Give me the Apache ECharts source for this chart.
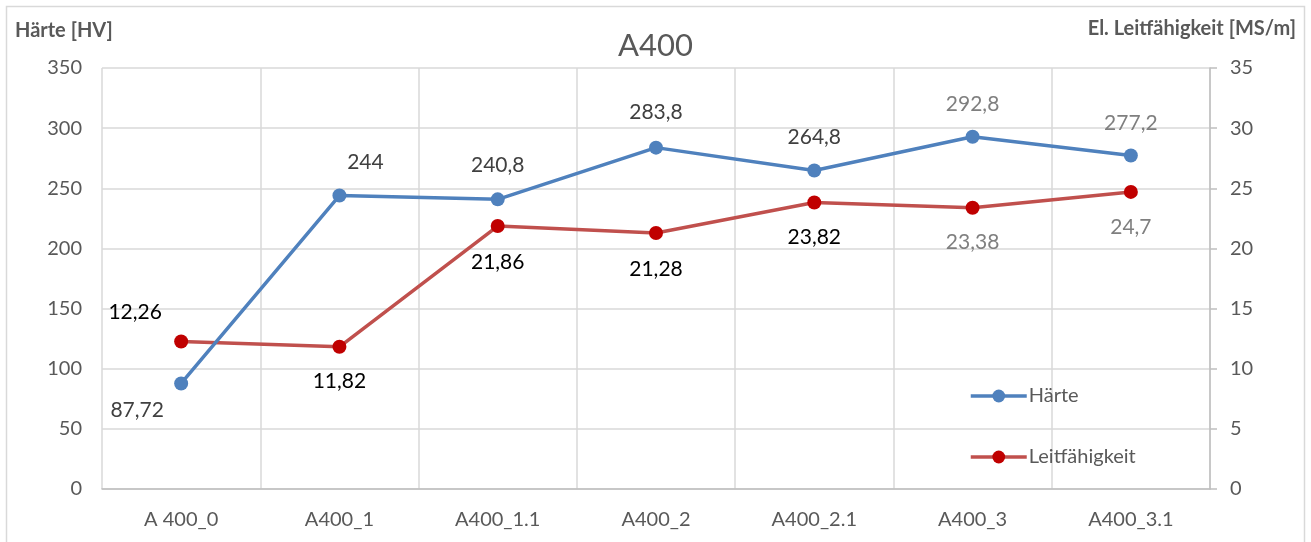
<!DOCTYPE html>
<html>
<head>
<meta charset="utf-8">
<script src="https://cdn.jsdelivr.net/npm/echarts@6/dist/echarts.min.js"></script>
<style>
  html, body { margin: 0; padding: 0; background: #fff; }
  #chart { width: 1311px; height: 542px; }
</style>
</head>
<body>
<div id="chart"></div>
<script>
// Probe categories
const categories = ['A 400_0', 'A400_1', 'A400_1.1', 'A400_2', 'A400_2.1', 'A400_3', 'A400_3.1'];

// Hardness [HV] (left axis)
const haerte = [87.72, 244, 240.8, 283.8, 264.8, 292.8, 277.2];

// Electrical conductivity [MS/m] (right axis)
const leitfaehigkeit = [12.26, 11.82, 21.86, 21.28, 23.82, 23.38, 24.7];

// Axis ranges
const hvMin = 0, hvMax = 350, hvStep = 50;
const lfMin = 0, lfMax = 35, lfStep = 5;

// Label placement (pixel offsets from each marker) and colours
const haerteLabelOffset = [[-44, 27], [26, -33], [0, -34], [0, -35], [0, -33], [0, -33], [0, -32]];
const haerteLabelColor = ['#404040', '#404040', '#404040', '#404040', '#404040', '#7f7f7f', '#7f7f7f'];
const lfLabelOffset = [[-46, -29], [0, 34], [0, 36], [0, 36], [0, 35], [0, 34], [0, 35]];
const lfLabelColor = ['#000000', '#000000', '#000000', '#000000', '#000000', '#7f7f7f', '#7f7f7f'];

const FONT = 'Lato, "Open Sans", sans-serif';
const fmt = v => String(v).replace('.', ',');

function labelled(values, offsets, colors) {
  return values.map((v, i) => ({
    value: v,
    label: { offset: offsets[i], color: colors[i] }
  }));
}

const chart = echarts.init(document.getElementById('chart'), null, { renderer: 'canvas' });

chart.setOption({
  animation: false,
  backgroundColor: '#ffffff',
  textStyle: { fontFamily: FONT },
  graphic: [{
    type: 'rect',
    shape: { x: 6.5, y: 6.5, width: 1298, height: 560 },
    style: { fill: 'none', stroke: '#d9d9d9', lineWidth: 1.5 },
    silent: true,
    z: -1
  }],
  title: {
    text: 'A400',
    left: 'center',
    top: 25,
    textStyle: { fontFamily: FONT, fontSize: 31, fontWeight: 'normal', color: '#595959' }
  },
  legend: {
    orient: 'vertical',
    left: 964,
    top: 381,
    itemWidth: 56,
    itemHeight: 16,
    itemGap: 41,
    lineStyle: { width: 3.5 },
    textStyle: { fontFamily: FONT, fontSize: 20, color: '#595959', padding: [0, 0, 0, -3] },
    data: ['Härte', 'Leitfähigkeit']
  },
  grid: { left: 102, right: 101, top: 68, bottom: 53, containLabel: false },
  xAxis: {
    type: 'category',
    data: categories,
    boundaryGap: true,
    axisLine: { show: true, lineStyle: { color: '#bfbfbf', width: 1.5 } },
    axisTick: { show: false },
    axisLabel: { fontFamily: FONT, fontSize: 20, color: '#595959', margin: 21 },
    splitLine: { show: true, lineStyle: { color: '#d9d9d9', width: 1.5 } }
  },
  yAxis: [
    {
      type: 'value',
      min: hvMin, max: hvMax, interval: hvStep,
      name: 'Härte [HV]',
      nameLocation: 'end',
      nameGap: 27,
      nameTextStyle: { fontFamily: FONT, fontSize: 20, fontWeight: 'bold', color: '#595959', align: 'left', padding: [0, 0, 0, -87] },
      axisLine: { show: false },
      axisTick: { show: false },
      axisLabel: { fontFamily: FONT, fontSize: 20, color: '#595959', margin: 20 },
      splitLine: { show: true, lineStyle: { color: '#d9d9d9', width: 1.5 } }
    },
    {
      type: 'value',
      min: lfMin, max: lfMax, interval: lfStep,
      name: 'El. Leitfähigkeit [MS/m]',
      nameLocation: 'end',
      nameGap: 29,
      nameTextStyle: { fontFamily: FONT, fontSize: 20, fontWeight: 'bold', color: '#595959', align: 'right', padding: [0, -86, 0, 0] },
      position: 'right',
      axisLine: { show: true, lineStyle: { color: '#bfbfbf', width: 1.5 } },
      axisTick: { show: true, length: 7, lineStyle: { color: '#bfbfbf', width: 1.5 } },
      axisLabel: { fontFamily: FONT, fontSize: 20, color: '#595959', margin: 20 },
      splitLine: { show: false }
    }
  ],
  series: [
    {
      name: 'Härte',
      type: 'line',
      yAxisIndex: 0,
      data: labelled(haerte, haerteLabelOffset, haerteLabelColor),
      symbol: 'circle',
      symbolSize: 14,
      lineStyle: { color: '#4f81bd', width: 3.5 },
      itemStyle: { color: '#4f81bd' },
      label: {
        show: true,
        position: 'inside',
        fontFamily: FONT,
        fontSize: 21,
        formatter: p => fmt(p.value)
      },
      z: 3
    },
    {
      name: 'Leitfähigkeit',
      type: 'line',
      yAxisIndex: 1,
      data: labelled(leitfaehigkeit, lfLabelOffset, lfLabelColor),
      symbol: 'circle',
      symbolSize: 14,
      lineStyle: { color: '#c0504d', width: 3.5 },
      itemStyle: { color: '#c00000' },
      label: {
        show: true,
        position: 'inside',
        fontFamily: FONT,
        fontSize: 21,
        formatter: p => fmt(p.value)
      },
      z: 2
    }
  ]
});
</script>
</body>
</html>
